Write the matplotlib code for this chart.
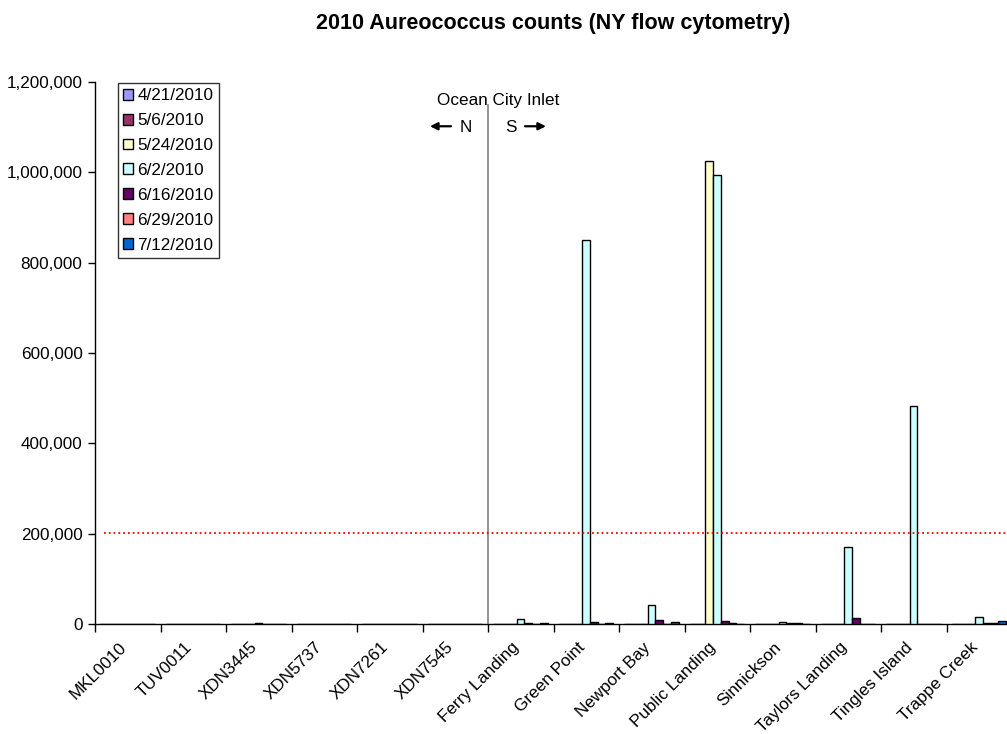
import matplotlib
matplotlib.use("Agg")
import matplotlib.pyplot as plt
import matplotlib.transforms as mtransforms
import numpy as np
from matplotlib.ticker import FuncFormatter

plt.rcParams['font.family'] = ['Liberation Sans', 'DejaVu Sans']

sites = ["MKL0010", "TUV0011", "XDN3445", "XDN5737", "XDN7261", "XDN7545",
         "Ferry Landing", "Green Point", "Newport Bay", "Public Landing",
         "Sinnickson", "Taylors Landing", "Tingles Island", "Trappe Creek"]
dates = ["4/21/2010", "5/6/2010", "5/24/2010", "6/2/2010", "6/16/2010",
         "6/29/2010", "7/12/2010"]
colors = ["#9999FF", "#993366", "#FFFFCC", "#CCFFFF", "#660066", "#FF8080", "#0066CC"]

c_0421 = [300, 300, 300, 300, 300, 300, 0, 0, 0, 0, 0, 0, 0, 0]
c_0506 = [300, 300, 300, 300, 300, 300, 0, 0, 0, 0, 0, 0, 0, 0]
c_0524 = [300, 300, 300, 300, 300, 300, 0, 0, 0, 1025000, 0, 0, 0, 0]
c_0602 = [300, 300, 2000, 300, 300, 300, 11000, 850000, 42000, 995000, 5000, 170000, 483000, 14500]
c_0616 = [300, 300, 300, 300, 300, 300, 2500, 5000, 8000, 6500, 2500, 13000, 1000, 1500]
c_0629 = [300, 300, 300, 300, 300, 300, 1000, 1000, 1000, 3000, 2500, 1000, 1000, 2000]
c_0712 = [300, 300, 300, 300, 300, 300, 2000, 2500, 4500, 1000, 1000, 0, 0, 6500]
series = [c_0421, c_0506, c_0524, c_0602, c_0616, c_0629, c_0712]

threshold = 202000

FS = 12.3

fig = plt.figure(figsize=(10.07, 7.34), dpi=100)
ax = fig.add_axes([95/1007, 110/734, 917/1007, 542/734])

n = len(sites)
x = np.arange(n)
w = 0.119
start = -0.5 + 0.079
for j, (vals, col, lab) in enumerate(zip(series, colors, dates)):
    ax.bar(x + start + (j + 0.5) * w, vals, width=w, color=col,
           edgecolor='black', linewidth=1.0, label=lab, zorder=3)

ax.set_xlim(-0.5, n - 0.5)
ax.set_ylim(0, 1200000)
ax.set_yticks(np.arange(0, 1200001, 200000))
ax.yaxis.set_major_formatter(FuncFormatter(lambda v, p: f"{int(v):,}"))
ax.tick_params(axis='y', direction='out', length=5, width=1, labelsize=FS, pad=4)

ax.set_xticks(np.arange(-0.5, n, 1.0))
ax.set_xticklabels([])
ax.tick_params(axis='x', which='major', direction='out', length=6, width=1)
ax.set_xticks(x, minor=True)
ax.set_xticklabels(sites, minor=True, rotation=45, ha='right', va='center',
                   rotation_mode='anchor', fontsize=FS)
ax.tick_params(axis='x', which='minor', length=0, pad=15)
shift = mtransforms.ScaledTranslation(-4/100, 0, fig.dpi_scale_trans)
for lbl in ax.get_xticklabels(minor=True):
    lbl.set_transform(lbl.get_transform() + shift)

for s in ['top', 'right']:
    ax.spines[s].set_visible(False)
for s in ['left', 'bottom']:
    ax.spines[s].set_color('black')
    ax.spines[s].set_linewidth(1.0)

ax.plot([-0.36, n - 0.5], [threshold, threshold], color='red', linestyle=':',
        linewidth=1.3, zorder=4)
ax.plot([5.5, 5.5], [0, 1150000], color='#808080', linewidth=1.2, zorder=2)

ax.text(5.66, 1158000, "Ocean City Inlet", ha='center', va='center', fontsize=FS)
ax.text(5.157, 1100000, "N", ha='center', va='center', fontsize=FS)
ax.text(5.843, 1100000, "S", ha='center', va='center', fontsize=FS)
arrow_kw = dict(arrowstyle='-|>', color='black', lw=1.6, mutation_scale=11,
                shrinkA=0, shrinkB=0)
ax.annotate('', xy=(4.614, 1102000), xytext=(4.935, 1102000), arrowprops=arrow_kw)
ax.annotate('', xy=(6.385, 1102000), xytext=(6.065, 1102000), arrowprops=arrow_kw)

leg = ax.legend(loc='upper left', bbox_to_anchor=(0.025, 0.998), fontsize=FS,
                frameon=True, fancybox=False, shadow=False, handlelength=0.6,
                handleheight=0.6, handletextpad=0.25, labelspacing=0.58,
                borderpad=0.3, borderaxespad=0)
leg.get_frame().set_edgecolor('black')
leg.get_frame().set_linewidth(1.0)

fig.text(553/1007, 1 - 29/734, "2010 Aureococcus counts (NY flow cytometry)",
         ha='center', va='baseline', fontsize=15.5, fontweight='bold')

fig.savefig("out.png", dpi=100)
